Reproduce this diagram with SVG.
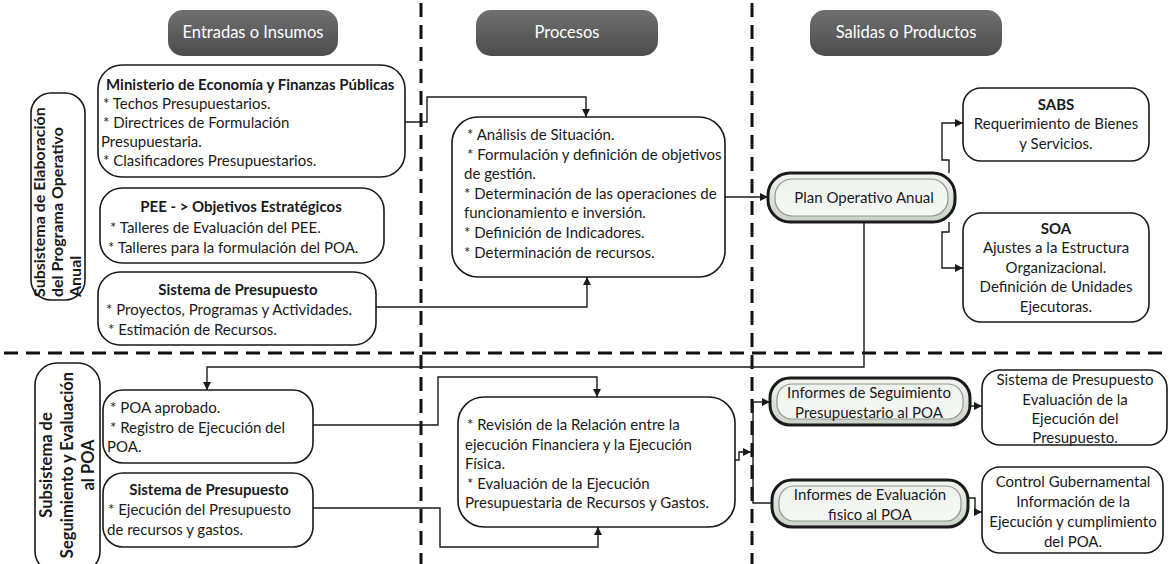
<svg xmlns="http://www.w3.org/2000/svg" width="1169" height="564" viewBox="0 0 1169 564">
<style>
  .box { fill: #ffffff; stroke: #1a1a1a; stroke-width: 1.6; }
  .t { font-family: Lato, "Liberation Sans", sans-serif; font-size: 15px; fill: #1a1a1a; }
  .b { font-weight: bold; }
  .c { text-anchor: middle; }
  .lbl1 { font-size: 16px; }
  .lbl2 { font-size: 16.5px; }
  .hdr { font-family: Lato, "Liberation Sans", sans-serif; font-size: 16.5px; fill: #ffffff; text-anchor: middle; }
  .pill { fill: url(#hdrGrad); }
  .lane { fill: none; stroke: #111111; stroke-width: 3; stroke-dasharray: 14 8; }
  .con { fill: none; stroke: #1a1a1a; stroke-width: 1.4; }
  .arr { marker-end: url(#ah); }
  .bevel { fill: url(#bevGrad); stroke: #1a1a1a; stroke-width: 3; }
  .bevin { fill: url(#bevIn); stroke: #8f998f; stroke-width: 1.2; }
</style>
<defs>
  <linearGradient id="hdrGrad" x1="0" y1="0" x2="0" y2="1">
    <stop offset="0" stop-color="#707070"/>
    <stop offset="1" stop-color="#4c4c4c"/>
  </linearGradient>
  <linearGradient id="bevGrad" x1="0" y1="0" x2="0" y2="1">
    <stop offset="0" stop-color="#f3f6f1"/>
    <stop offset="1" stop-color="#c9d2c6"/>
  </linearGradient>
  <linearGradient id="bevIn" x1="0" y1="0" x2="0" y2="1">
    <stop offset="0" stop-color="#eef2ec"/>
    <stop offset="1" stop-color="#f6f8f5"/>
  </linearGradient>
  <marker id="ah" markerUnits="userSpaceOnUse" markerWidth="9" markerHeight="9" refX="8" refY="4" orient="auto">
    <path d="M0,0 L8,4 L0,8 z" fill="#1a1a1a"/>
  </marker>
</defs>

<rect width="1169" height="564" fill="#ffffff"/>

<g id="lanes">
  <line class="lane" x1="421" y1="3" x2="421" y2="564"/>
  <line class="lane" x1="752" y1="3" x2="752" y2="564"/>
  <line class="lane" x1="4" y1="353" x2="1169" y2="353"/>
</g>

<g id="header-entradas">
  <rect class="pill" x="168" y="10" width="170" height="46" rx="15"/>
  <text class="hdr" x="253" y="38">Entradas o Insumos</text>
</g>
<g id="header-procesos">
  <rect class="pill" x="476" y="10" width="182" height="46" rx="15"/>
  <text class="hdr" x="567" y="38">Procesos</text>
</g>
<g id="header-salidas">
  <rect class="pill" x="810" y="10" width="192" height="46" rx="15"/>
  <text class="hdr" x="906" y="38">Salidas o Productos</text>
</g>

<g id="label-elaboracion">
  <rect class="box" x="31" y="93" width="54" height="207" rx="20"/>
  <text class="t b lbl1" transform="translate(45,297) rotate(-90)">Subsistema de Elaboración</text>
  <text class="t b lbl1" transform="translate(63,297) rotate(-90)">del Programa Operativo</text>
  <text class="t b lbl1" transform="translate(81,297) rotate(-90)">Anual</text>
</g>

<g id="label-seguimiento">
  <rect class="box" x="35" y="363" width="65" height="210" rx="22"/>
  <text class="t b c lbl2" transform="translate(52,465) rotate(-90)">Subsistema de</text>
  <text class="t b c lbl2" transform="translate(73,465) rotate(-90)">Seguimiento y Evaluación</text>
  <text class="t b c lbl2" transform="translate(94,465) rotate(-90)">al POA</text>
</g>

<g id="in-mefp">
  <rect class="box" x="98" y="65" width="307" height="112" rx="24"/>
  <text class="t b" x="106" y="90">Ministerio de Economía y Finanzas Públicas</text>
  <text class="t" x="103" y="109">* Techos Presupuestarios.</text>
  <text class="t" x="103" y="128">* Directrices de Formulación</text>
  <text class="t" x="101" y="147">Presupuestaria.</text>
  <text class="t" x="103" y="166">* Clasificadores Presupuestarios.</text>
</g>

<g id="in-pee">
  <rect class="box" x="100" y="188" width="284" height="75" rx="22"/>
  <text class="t b c" x="241" y="212">PEE - &gt; Objetivos Estratégicos</text>
  <text class="t" x="110" y="233">* Talleres de Evaluación del PEE.</text>
  <text class="t" x="108" y="253">* Talleres para la formulación del POA.</text>
</g>

<g id="in-presupuesto">
  <rect class="box" x="98" y="272" width="278" height="73" rx="22"/>
  <text class="t b c" x="238" y="295">Sistema de Presupuesto</text>
  <text class="t" x="106" y="315">* Proyectos, Programas y Actividades.</text>
  <text class="t" x="108" y="335">* Estimación de Recursos.</text>
</g>

<g id="proc-formulacion">
  <rect class="box" x="452" y="117" width="273" height="160" rx="26"/>
  <text class="t" x="467" y="140">* Análisis de Situación.</text>
  <text class="t" x="467" y="160">* Formulación y definición de objetivos</text>
  <text class="t" x="464" y="179">de gestión.</text>
  <text class="t" x="464" y="199">* Determinación de las operaciones de</text>
  <text class="t" x="464" y="218">funcionamiento e inversión.</text>
  <text class="t" x="464" y="238">* Definición de Indicadores.</text>
  <text class="t" x="464" y="258">* Determinación de recursos.</text>
</g>

<g id="out-poa">
  <rect class="bevel" x="768" y="173" width="187" height="49" rx="22"/>
  <rect class="bevin" x="775" y="179" width="173" height="37" rx="17"/>
  <text class="t c" x="864" y="203">Plan Operativo Anual</text>
</g>

<g id="out-sabs">
  <rect class="box" x="963" y="88" width="186" height="73" rx="18"/>
  <text class="t b c" x="1056" y="110">SABS</text>
  <text class="t c" x="1056" y="129">Requerimiento de Bienes</text>
  <text class="t c" x="1056" y="149">y Servicios.</text>
</g>

<g id="out-soa">
  <rect class="box" x="963" y="213" width="186" height="109" rx="18"/>
  <text class="t b c" x="1056" y="234">SOA</text>
  <text class="t c" x="1056" y="253">Ajustes a la Estructura</text>
  <text class="t c" x="1056" y="273">Organizacional.</text>
  <text class="t c" x="1056" y="292">Definición de Unidades</text>
  <text class="t c" x="1056" y="312">Ejecutoras.</text>
</g>

<g id="in-poa-aprobado">
  <rect class="box" x="103" y="390" width="210" height="73" rx="20"/>
  <text class="t" x="110" y="413">* POA aprobado.</text>
  <text class="t" x="110" y="433">* Registro de Ejecución del</text>
  <text class="t" x="107" y="452">POA.</text>
</g>

<g id="in-ejecucion">
  <rect class="box" x="103" y="473" width="210" height="74" rx="20"/>
  <text class="t b c" x="209" y="495">Sistema de Presupuesto</text>
  <text class="t" x="108" y="515">* Ejecución del Presupuesto</text>
  <text class="t" x="107" y="535">de recursos y gastos.</text>
</g>

<g id="proc-evaluacion">
  <rect class="box" x="458" y="397" width="277" height="130" rx="26"/>
  <text class="t" x="467" y="430">* Revisión de la Relación entre la</text>
  <text class="t" x="465" y="450">ejecución Financiera y la Ejecución</text>
  <text class="t" x="465" y="469">Física.</text>
  <text class="t" x="467" y="489">* Evaluación de la Ejecución</text>
  <text class="t" x="465" y="508">Presupuestaria de Recursos y Gastos.</text>
</g>

<g id="out-seguimiento">
  <rect class="bevel" x="770" y="378" width="200" height="47" rx="20"/>
  <rect class="bevin" x="777" y="384" width="186" height="35" rx="15"/>
  <text class="t c" x="869" y="398">Informes de Seguimiento</text>
  <text class="t c" x="869" y="418">Presupuestario al POA</text>
</g>

<g id="out-evaluacion">
  <rect class="bevel" x="772" y="480" width="196" height="47" rx="20"/>
  <rect class="bevin" x="779" y="486" width="182" height="35" rx="15"/>
  <text class="t c" x="870" y="500">Informes de Evaluación</text>
  <text class="t c" x="870" y="520">fisico al POA</text>
</g>

<g id="out-sp-evaluacion">
  <rect class="box" x="982" y="370" width="185" height="75" rx="18"/>
  <text class="t c" x="1075" y="385">Sistema de Presupuesto</text>
  <text class="t c" x="1075" y="405">Evaluación de la</text>
  <text class="t c" x="1075" y="424">Ejecución del</text>
  <text class="t c" x="1075" y="443">Presupuesto.</text>
</g>

<g id="out-control">
  <rect class="box" x="982" y="467" width="181" height="86" rx="18"/>
  <text class="t c" x="1073" y="487">Control Gubernamental</text>
  <text class="t c" x="1073" y="507">Información de la</text>
  <text class="t c" x="1073" y="527">Ejecución y cumplimiento</text>
  <text class="t c" x="1073" y="547">del POA.</text>
</g>

<g id="connectors">
  <path class="con arr" d="M405,122 H427 V97 H586 V117"/>
  <path class="con arr" d="M376,307 H587 V277"/>
  <path class="con arr" d="M725,197 H768"/>
  <path class="con arr" d="M949,173 V160 H942 V123 H963"/>
  <path class="con arr" d="M949,222 V232 H942 V268 H963"/>
  <path class="con arr" d="M864,222 V367 H207 V390"/>
  <path class="con arr" d="M313,425 H438 V377 H597 V397"/>
  <path class="con arr" d="M313,508 H440 V547 H598 V527"/>
  <path class="con arr" d="M735,460 H739 V452 H751"/>
  <path class="con" d="M753,402 V503 H772"/>
  <path class="con arr" d="M753,402 H770"/>
  <path class="con arr" d="M970,406 H982"/>
  <path class="con arr" d="M968,498 H975 V512 H982"/>
</g>
</svg>
